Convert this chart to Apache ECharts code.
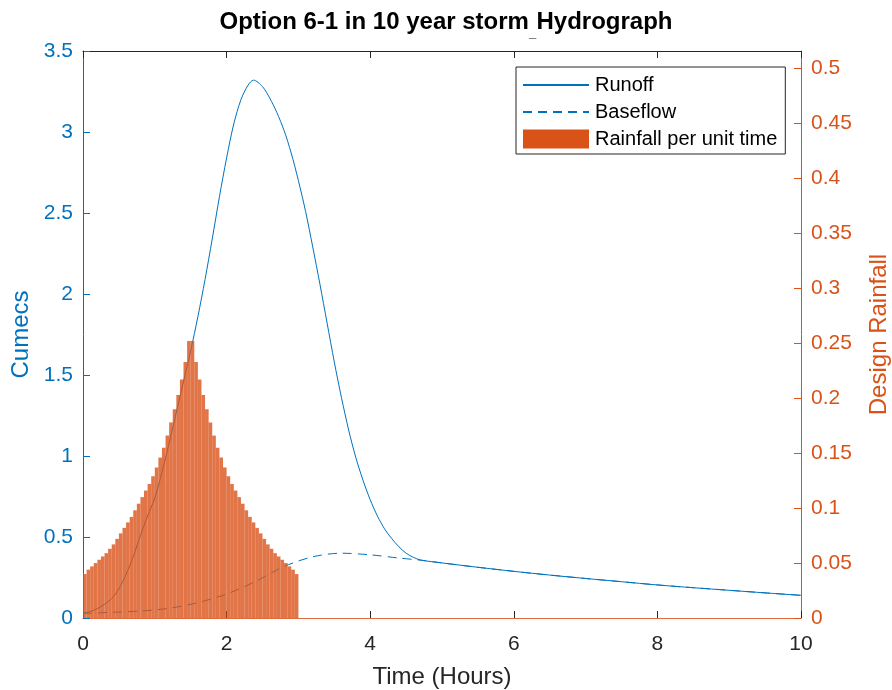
<!DOCTYPE html>
<html>
<head>
<meta charset="utf-8">
<script src="https://cdn.jsdelivr.net/npm/echarts@6/dist/echarts.min.js"></script>
<style>
  html, body { margin: 0; padding: 0; background: #fff; }
  #main { width: 892px; height: 690px; }
</style>
</head>
<body>
<div id="main"></div>
<script>
// hydrograph (hours / cumecs)
var runoffTime = [0, 0.1, 0.2, 0.3, 0.4, 0.5, 0.6, 0.7, 0.8, 0.9, 1.0, 1.1, 1.2, 1.3, 1.4, 1.5,
    1.6, 1.7, 1.8, 1.9, 2.0, 2.1, 2.2, 2.3, 2.375, 2.5, 2.6, 2.7, 2.8, 2.9, 3.0, 3.1, 3.2,
    3.3, 3.4, 3.5, 3.6, 3.7, 3.8, 3.9, 4.0, 4.1, 4.2, 4.3, 4.4, 4.5, 4.6, 4.7, 5.0, 5.5,
    6.0, 6.5, 7.0, 7.5, 8.0, 8.5, 9.0, 9.5, 10];
var runoff = [0.03, 0.04, 0.058, 0.085, 0.12, 0.18, 0.27, 0.38, 0.51, 0.63, 0.74, 0.90, 1.08, 1.27, 1.46, 1.65,
    1.86, 2.09, 2.34, 2.60, 2.84, 3.05, 3.20, 3.29, 3.32, 3.28, 3.21, 3.12, 3.01, 2.87, 2.70, 2.51, 2.29,
    2.06, 1.82, 1.58, 1.36, 1.16, 0.99, 0.85, 0.73, 0.63, 0.55, 0.49, 0.44, 0.40, 0.375, 0.358, 0.34, 0.313,
    0.288, 0.265, 0.244, 0.224, 0.204, 0.187, 0.171, 0.155, 0.14];

var baseTime = [0, 0.4, 0.8, 1.2, 1.6, 2.0, 2.4, 2.8, 3.2, 3.6, 4.0, 4.4, 4.7, 5.0, 5.5,
    6.0, 6.5, 7.0, 7.5, 8.0, 8.5, 9.0, 9.5, 10];
var baseflow = [0.028, 0.035, 0.043, 0.06, 0.095, 0.148, 0.225, 0.318, 0.378, 0.40, 0.39, 0.37, 0.357, 0.34, 0.313,
    0.288, 0.265, 0.244, 0.224, 0.204, 0.187, 0.171, 0.155, 0.14];

// design rainfall per unit time
var rainTime = [0.025, 0.075, 0.125, 0.175, 0.225, 0.275, 0.325, 0.375, 0.425, 0.475,
    0.525, 0.575, 0.625, 0.675, 0.725, 0.775, 0.825, 0.875, 0.925, 0.975,
    1.025, 1.075, 1.125, 1.175, 1.225, 1.275, 1.325, 1.375, 1.425, 1.475,
    1.525, 1.575, 1.625, 1.675, 1.725, 1.775, 1.825, 1.875, 1.925, 1.975,
    2.025, 2.075, 2.125, 2.175, 2.225, 2.275, 2.325, 2.375, 2.425, 2.475,
    2.525, 2.575, 2.625, 2.675, 2.725, 2.775, 2.825, 2.875, 2.925, 2.975];
var rainfall = [0.040, 0.044, 0.047, 0.050, 0.053, 0.056, 0.059, 0.063, 0.067, 0.072,
    0.077, 0.082, 0.087, 0.092, 0.098, 0.104, 0.110, 0.116, 0.122, 0.129,
    0.137, 0.146, 0.155, 0.166, 0.178, 0.190, 0.203, 0.217, 0.233, 0.252,
    0.252, 0.233, 0.217, 0.203, 0.190, 0.178, 0.166, 0.155, 0.146, 0.137,
    0.129, 0.122, 0.116, 0.110, 0.104, 0.098, 0.092, 0.087, 0.082, 0.077,
    0.072, 0.067, 0.063, 0.059, 0.056, 0.053, 0.050, 0.047, 0.044, 0.040];

var xTicks = [0, 10, 2];      // min, max, step
var leftTicks = [0, 3.5, 0.5];
var rightTicks = [0, 0.516, 0.05];

function pairs(xs, ys){
    var out = [];
    for (var i = 0; i < xs.length; i++) out.push([xs[i], ys[i]]);
    return out;
}

var blue = '#0072BD', orange = '#D95319', grey = '#262626';
var font = '"Liberation Sans", Arial, Helvetica, sans-serif';

var chart = echarts.init(document.getElementById('main'));
var option = {
    animation: false,
    backgroundColor: '#fff',
    textStyle: { fontFamily: font },
    title: {
        // the "_" in the matlab title came out as a small low dash
        text: '{t|Option 6-1 in 10 year storm}{u|_}{p| }{t|Hydrograph}',
        left: 'center',
        top: 5,
        textStyle: {
            rich: {
                t: { fontSize: 24, fontWeight: 'bold', color: '#000', fontFamily: font,
                     lineHeight: 26, verticalAlign: 'top' },
                u: { fontSize: 13, fontWeight: 'bold', color: '#000', fontFamily: font,
                     lineHeight: 2, verticalAlign: 'bottom', padding: [0, 0, 0, 0] },
                p: { fontSize: 1, lineHeight: 30 }
            }
        }
    },
    legend: {
        orient: 'vertical',
        left: 516,
        top: 67,
        padding: [8, 8, 5, 6],
        itemGap: 7,
        itemWidth: 66,
        itemHeight: 19,
        backgroundColor: '#fff',
        borderColor: grey,
        borderWidth: 1,
        borderRadius: 0,
        textStyle: { fontSize: 20, color: '#000', fontFamily: font, padding: [0, 0, 0, 1] },
        data: [
            { name: 'Runoff', itemStyle: { opacity: 0 } },
            { name: 'Baseflow', itemStyle: { opacity: 0 } },
            { name: 'Rainfall per unit time', icon: 'rect', itemStyle: { opacity: 1 } }
        ]
    },
    grid: { left: 83, right: 91, top: 51, bottom: 72, outerBoundsMode: 'none', containLabel: false },
    xAxis: [{
        type: 'value',
        min: xTicks[0], max: xTicks[1], interval: xTicks[2],
        name: 'Time (Hours)',
        nameLocation: 'middle',
        nameGap: 47,
        nameTextStyle: { fontSize: 24, color: grey, fontFamily: font },
        axisLine: { onZero: false, lineStyle: { color: '#E06A3A', width: 1.2 } },
        axisTick: { inside: true, length: 7, lineStyle: { color: grey } },
        axisLabel: { fontSize: 21, color: grey, margin: 16, fontFamily: font },
        splitLine: { show: false }
    }, {
        type: 'value',
        position: 'top',
        min: xTicks[0], max: xTicks[1], interval: xTicks[2],
        axisLine: { onZero: false, lineStyle: { color: grey } },
        axisTick: { inside: true, length: 7, lineStyle: { color: grey } },
        axisLabel: { show: false },
        splitLine: { show: false }
    }],
    yAxis: [{
        type: 'value',
        position: 'left',
        min: leftTicks[0], max: leftTicks[1], interval: leftTicks[2],
        name: 'Cumecs',
        nameLocation: 'middle',
        nameGap: 50,
        nameRotate: 90,
        nameTextStyle: { fontSize: 24, color: blue, fontFamily: font },
        axisLine: { show: true, onZero: false, lineStyle: { color: blue } },
        axisTick: { show: true, inside: true, length: 7, lineStyle: { color: blue } },
        axisLabel: { fontSize: 21, color: blue, margin: 10, fontFamily: font },
        splitLine: { show: false }
    }, {
        type: 'value',
        position: 'right',
        min: rightTicks[0], max: rightTicks[1], interval: rightTicks[2],
        name: 'Design Rainfall',
        nameLocation: 'middle',
        nameGap: 66,
        nameRotate: 90,
        nameTextStyle: { fontSize: 24, color: orange, fontFamily: font },
        axisLine: { show: true, onZero: false, lineStyle: { color: orange } },
        axisTick: { show: true, inside: true, length: 7, lineStyle: { color: orange } },
        axisLabel: { fontSize: 21, color: orange, margin: 10, fontFamily: font, showMaxLabel: false },
        splitLine: { show: false }
    }],
    series: [{
        name: 'Runoff',
        type: 'line',
        xAxisIndex: 0, yAxisIndex: 0,
        data: pairs(runoffTime, runoff),
        showSymbol: false, symbol: 'none',
        smooth: 0.3,
        lineStyle: { color: blue, width: 1 },
        itemStyle: { color: blue },
        z: 2
    }, {
        name: 'Baseflow',
        type: 'line',
        xAxisIndex: 0, yAxisIndex: 0,
        data: pairs(baseTime, baseflow),
        showSymbol: false, symbol: 'none',
        smooth: 0.3,
        lineStyle: { color: blue, width: 1, type: [9, 6] },
        itemStyle: { color: blue },
        z: 2
    }, {
        name: 'Rainfall per unit time',
        type: 'bar',
        xAxisIndex: 0, yAxisIndex: 1,
        data: pairs(rainTime, rainfall),
        barWidth: 3.6,
        itemStyle: { color: orange, opacity: 0.8 },
        z: 3
    }]
};
chart.setOption(option);
</script>
</body>
</html>
